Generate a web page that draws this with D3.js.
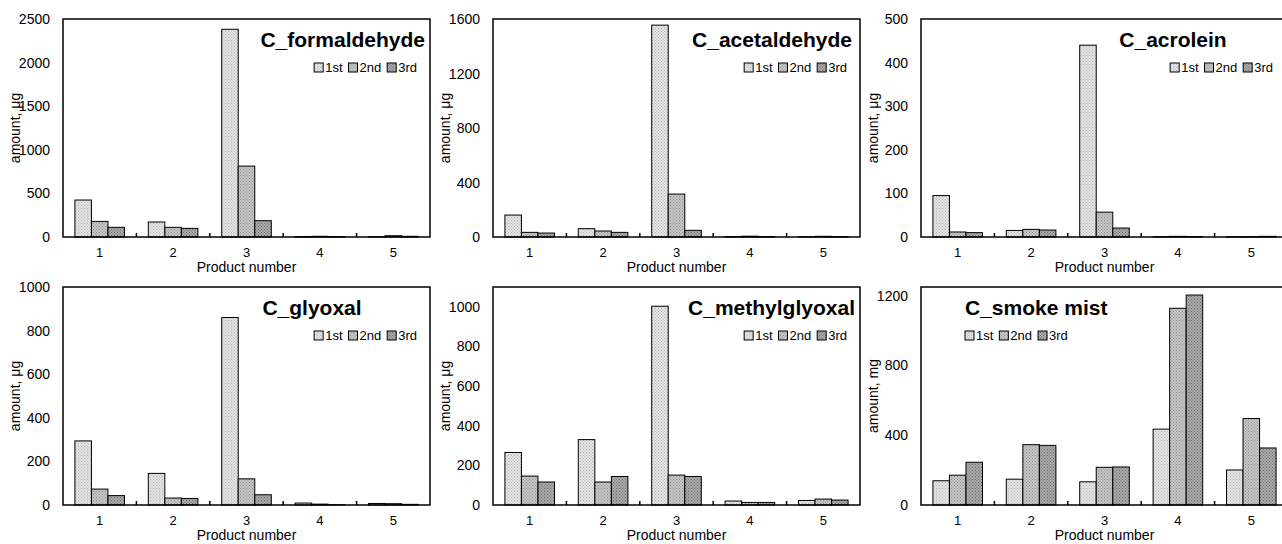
<!DOCTYPE html>
<html>
<head>
<meta charset="utf-8">
<script src="https://cdn.jsdelivr.net/npm/d3@7"></script>
<style>
  body { margin: 0; background: #fff; }
  text { font-family: "Liberation Sans", Arial, sans-serif; fill: #000; }
</style>
</head>
<body>
<script>
// categories and series
const products = [1, 2, 3, 4, 5]
const runs = ['1st', '2nd', '3rd']

// values per run (1st, 2nd, 3rd), one entry per product
const formaldehyde = [[424, 172, 2382, 5, 3], [179, 111, 813, 8, 15], [111, 99, 187, 5, 8]]
const acetaldehyde = [[161, 61, 1555, 3, 2], [34, 44, 315, 6, 5], [29, 34, 49, 3, 3]]
const acrolein = [[95, 15, 440, 0.5, 0.5], [11.5, 17.5, 57, 1.5, 0.8], [10, 16, 20.6, 1, 1.5]]
const glyoxal = [[294, 145, 860, 9, 7], [73, 32, 120, 4, 6], [43, 30, 47, 1, 3]]
const methylglyoxal = [[265, 330, 1003, 20, 23], [146, 116, 151, 13, 30], [116, 144, 144, 13, 25]]
const smokeMist = [[139, 148, 133, 435, 201], [171, 346, 216, 1128, 496], [245, 342, 218, 1204, 327]]

const titles = ['C_formaldehyde', 'C_acetaldehyde', 'C_acrolein', 'C_glyoxal', 'C_methylglyoxal', 'C_smoke mist']
const yLabels = ['amount, μg', 'amount, μg', 'amount, μg', 'amount, μg', 'amount, μg', 'amount, mg']
const yMax = [2500, 1600, 500, 1000, 1100, 1250]
const yTicks = [
  [0, 500, 1000, 1500, 2000, 2500],
  [0, 400, 800, 1200, 1600],
  [0, 100, 200, 300, 400, 500],
  [0, 200, 400, 600, 800, 1000],
  [0, 200, 400, 600, 800, 1000],
  [0, 400, 800, 1200]
]
const series = [formaldehyde, acetaldehyde, acrolein, glyoxal, methylglyoxal, smokeMist]

// layout
const W = 1282, H = 544
const lefts = [63, 493, 921]
const tops = [19, 287]
const pw = 367, ph = 218
// title: [x offset, anchor], legend: [x offset, anchor]
const titlePos = [[362, 'end'], [359, 'end'], [252, 'middle'], [249, 'middle'], [362, 'end'], [44, 'start']]
const legendPos = [[354, 'end'], [354, 'end'], [352, 'end'], [354, 'end'], [354, 'end'], [44, 'start']]

const svg = d3.select('body').append('svg')
    .attr('width', W)
    .attr('height', H)

// stipple fills like the scanned bars
const defs = svg.append('defs')
const fills = [['#e4e4e4', '#b4b4b4'], ['#c6c6c6', '#8e8e8e'], ['#a9a9a9', '#6e6e6e']]
fills.forEach((f, i) => {
  const p = defs.append('pattern')
      .attr('id', 'fill' + i)
      .attr('width', 3).attr('height', 3)
      .attr('patternUnits', 'userSpaceOnUse')
  p.append('rect').attr('width', 3).attr('height', 3).attr('fill', f[0])
  p.append('rect').attr('width', 1).attr('height', 1).attr('fill', f[1])
  p.append('rect').attr('x', 1.5).attr('y', 1.5).attr('width', 1).attr('height', 1).attr('fill', f[1])
})

series.forEach((data, k) => {
  const left = lefts[k % 3], top = tops[Math.floor(k / 3)]
  const g = svg.append('g').attr('transform', `translate(${left},${top})`)

  const x = d3.scaleBand().domain(products).range([0, pw]).paddingInner(0).paddingOuter(0)
  const xs = d3.scaleBand().domain(runs).range([0, x.bandwidth()]).paddingInner(0).paddingOuter(0.72)
  const y = d3.scaleLinear().domain([0, yMax[k]]).range([ph, 0])

  // bars
  runs.forEach((r, i) => {
    g.selectAll('rect.r' + i)
      .data(data[i])
      .enter().append('rect')
        .attr('class', 'r' + i)
        .attr('x', (d, j) => x(products[j]) + xs(r))
        .attr('y', d => y(d))
        .attr('width', xs.bandwidth())
        .attr('height', d => ph - y(d))
        .attr('fill', `url(#fill${i})`)
        .attr('stroke', '#000')
        .attr('stroke-width', 1)
  })

  // frame
  g.append('rect')
      .attr('width', pw).attr('height', ph)
      .attr('fill', 'none')
      .attr('stroke', '#000')
      .attr('stroke-width', 1.5)

  // x ticks between groups, pointing inward
  g.selectAll('line.xt')
    .data(products.slice(1))
    .enter().append('line')
      .attr('x1', d => x(d)).attr('x2', d => x(d))
      .attr('y1', ph).attr('y2', ph - 4)
      .attr('stroke', '#000')
      .attr('stroke-width', 1.5)

  // x labels
  g.selectAll('text.xl')
    .data(products)
    .enter().append('text')
      .attr('x', d => x(d) + x.bandwidth() / 2)
      .attr('y', ph + 20)
      .attr('text-anchor', 'middle')
      .attr('font-size', 13)
      .text(d => d)

  // y labels
  g.selectAll('text.yl')
    .data(yTicks[k])
    .enter().append('text')
      .attr('x', -13)
      .attr('y', d => y(d) + 5)
      .attr('text-anchor', 'end')
      .attr('font-size', 14)
      .text(d => d)

  // axis titles
  g.append('text')
      .attr('x', pw / 2)
      .attr('y', ph + 35)
      .attr('text-anchor', 'middle')
      .attr('font-size', 14)
      .text('Product number')

  g.append('text')
      .attr('transform', `translate(-43,${ph / 2}) rotate(-90)`)
      .attr('text-anchor', 'middle')
      .attr('font-size', 14)
      .text(yLabels[k])

  // panel title
  g.append('text')
      .attr('x', titlePos[k][0])
      .attr('y', 28)
      .attr('text-anchor', titlePos[k][1])
      .attr('font-size', 21)
      .attr('font-weight', 'bold')
      .text(titles[k])

  // legend
  const lg = g.append('g')
  let cx = 0
  runs.forEach((r, i) => {
    lg.append('rect')
        .attr('x', cx).attr('y', 44)
        .attr('width', 9).attr('height', 9)
        .attr('fill', `url(#fill${i})`)
        .attr('stroke', '#000')
    const t = lg.append('text')
        .attr('x', cx + 11)
        .attr('y', 53)
        .attr('font-size', 13)
        .text(r)
    cx += 11 + t.node().getComputedTextLength() + 6
  })
  const lw = cx - 6
  const lx = legendPos[k][1] === 'end' ? legendPos[k][0] - lw : legendPos[k][0]
  lg.attr('transform', `translate(${lx},0)`)
})
</script>
</body>
</html>
